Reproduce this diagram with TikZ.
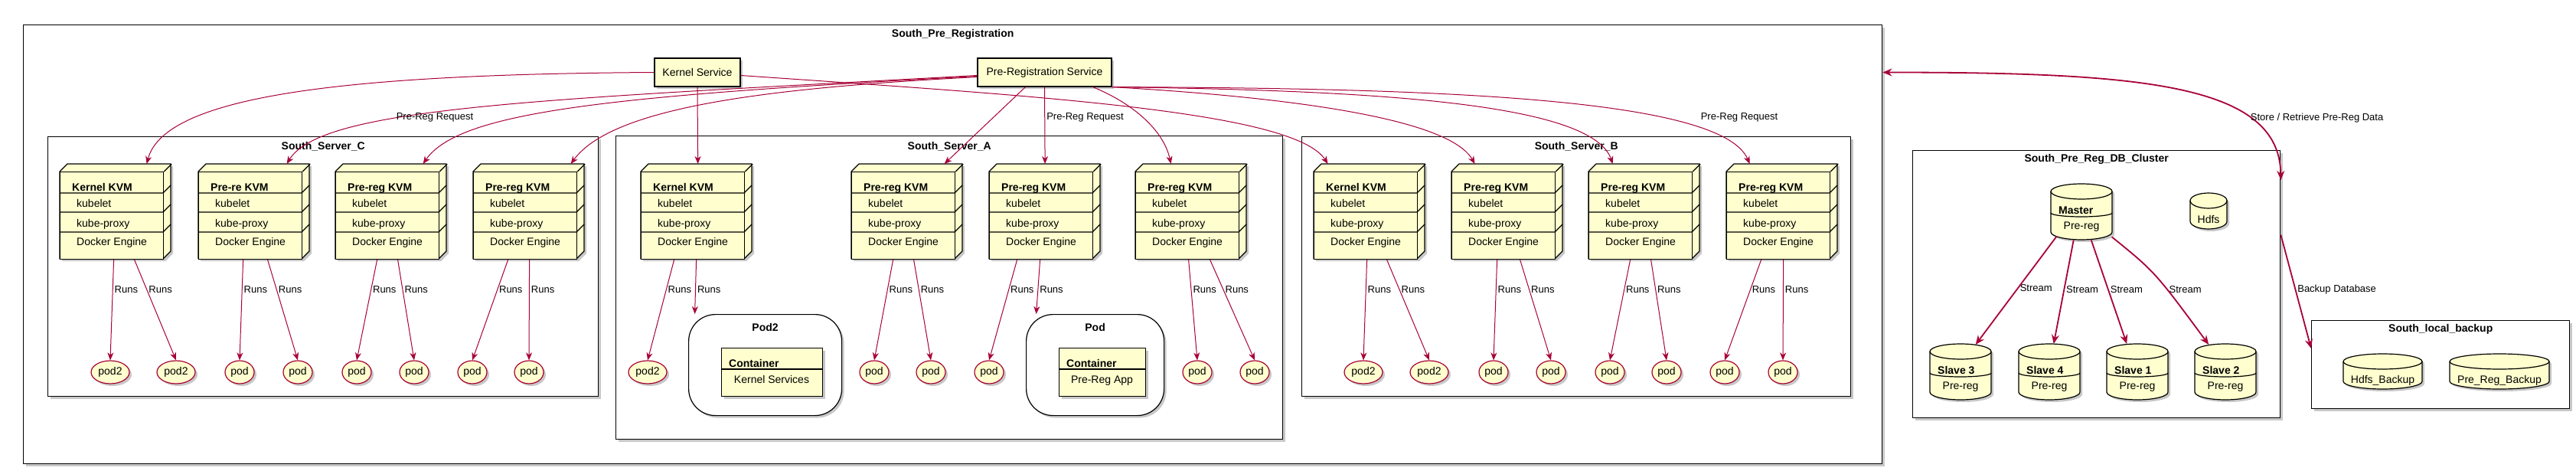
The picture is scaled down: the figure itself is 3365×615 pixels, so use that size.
\documentclass[tikz,border=0pt]{standalone}
\usepackage{fontspec}
\setmainfont{Liberation Sans}
\usepackage{xcolor}
\usetikzlibrary{shapes.geometric, arrows.meta, positioning, shadows}

\definecolor{umlfill}{HTML}{FEFECE}
\definecolor{umlred}{HTML}{A80036}

\tikzstyle{castshadow} = [drop shadow={shadow xshift=3pt, shadow yshift=-3pt, opacity=0.3, fill=black!70}]
\tikzstyle{cluster} = [rectangle, draw=black, line width=1.4pt, fill=white, castshadow, inner sep=0pt, anchor=north west]
\tikzstyle{grouptitle} = [font=\bfseries\fontsize{14}{16}\selectfont, inner sep=0pt]
\tikzstyle{service} = [rectangle, draw=black, line width=1.2pt, fill=umlfill, castshadow, minimum height=37pt, inner sep=0pt, font=\fontsize{14}{16}\selectfont]
\tikzstyle{kvmface} = [rectangle, draw=black, line width=1.2pt, fill=umlfill, minimum width=135pt, minimum height=114pt, inner sep=0pt, anchor=north west]
\tikzstyle{kvmbody} = [draw=black, line width=1.2pt, fill=umlfill, line join=round, castshadow]
\tikzstyle{kvmline} = [draw=black, line width=1.2pt]
\tikzstyle{boldtext} = [font=\bfseries\fontsize{14}{16}\selectfont, inner sep=0pt]
\tikzstyle{plaintext} = [font=\fontsize{14}{16}\selectfont, inner sep=0pt]
\tikzstyle{pod} = [ellipse, draw=umlred, line width=1.2pt, fill=umlfill, castshadow, minimum width=38pt, minimum height=30pt, inner sep=0pt, font=\fontsize{14}{16}\selectfont]
\tikzstyle{podtwo} = [pod, minimum width=50pt]
\tikzstyle{storage} = [rectangle, rounded corners=35pt, draw=black, line width=1.2pt, fill=white, castshadow, inner sep=0pt, anchor=north west]
\tikzstyle{container} = [rectangle, draw=black, line width=1.2pt, fill=umlfill, castshadow, inner sep=0pt, anchor=north west, minimum height=63pt]
\tikzstyle{dbbox} = [rectangle, inner sep=0pt, anchor=north west]
\tikzstyle{dbline} = [draw=black, line width=1.2pt, fill=umlfill]
\tikzstyle{link} = [draw=umlred, line width=1pt, ->, >={Stealth[length=10pt, width=8pt, inset=3pt]}]
\tikzstyle{boldlink} = [draw=umlred, line width=1.8pt, ->, >={Stealth[length=12pt, width=10pt, inset=4pt]}]
\tikzstyle{lbl} = [font=\fontsize{13}{15}\selectfont, inner sep=2pt]

% 3D node box: name, left x, title
\newcommand{\kvmnode}[3]{%
  \filldraw[kvmbody] (#2,224) -- (#2+10,214) -- (#2+145,214) -- (#2+145,328) -- (#2+135,338) -- (#2,338) -- cycle;
  \node[kvmface] (#1) at (#2,224) {};
  \draw[kvmline] (#1.north east) -- ++(10,-10)
    (#2,252) -- (#2+135,252) -- ++(10,-10)
    (#2,277) -- (#2+135,277) -- ++(10,-10)
    (#2,303) -- (#2+135,303) -- ++(10,-10);
  \node[boldtext, anchor=base west] (#1-title) at (#2+16,249) {#3};
  \node[plaintext, anchor=base west] (#1-kubelet) at (#2+22,270) {kubelet};
  \node[plaintext, anchor=base west] (#1-proxy) at (#2+22,296) {kube-proxy};
  \node[plaintext, anchor=base west] (#1-docker) at (#2+22,320) {Docker Engine};
}

% database cylinder: name, x, y, width, height
\newcommand{\dbshape}[5]{%
  \node[dbbox, minimum width=#4pt, minimum height=#5pt] (#1) at (#2,#3) {};
  \filldraw[dbline, castshadow] (#2,#3+10) arc[start angle=180, end angle=360, x radius=#4/2, y radius=10] -- (#2+#4,#3+#5-10) arc[start angle=0, end angle=180, x radius=#4/2, y radius=10] -- cycle;
  \draw[dbline, fill=none] (#2,#3+10) arc[start angle=180, end angle=0, x radius=#4/2, y radius=10];
}

% database with a field: name, x, y, title, text
\newcommand{\dbfield}[5]{%
  \dbshape{#1}{#2}{#3}{80}{73}
  \draw[dbline, fill=none] (#2,#3+38) arc[start angle=180, end angle=0, x radius=40, y radius=5];
  \node[boldtext, anchor=base west] (#1-title) at (#2+10,#3+39) {#4};
  \node[plaintext, anchor=base] (#1-text) at (#2+40,#3+59) {#5};
}

\begin{document}
\begin{tikzpicture}[x=1pt, y=-1pt]
\useasboundingbox (0,0) rectangle (3365,615);

% Groups
\node[cluster, minimum width=2428pt, minimum height=573pt] (south-prereg) at (30,32) {};
\node[grouptitle] (south-prereg-title) at ([yshift=-13pt]south-prereg.north) {South\_Pre\_Registration};

\node[cluster, minimum width=719pt, minimum height=339pt] (server-c) at (62,178) {};
\node[grouptitle] (server-c-title) at ([yshift=-13pt]server-c.north) {South\_Server\_C};
\node[cluster, minimum width=871pt, minimum height=396pt] (server-a) at (804,177) {};
\node[grouptitle] (server-a-title) at ([yshift=-14pt]server-a.north) {South\_Server\_A};
\node[cluster, minimum width=717pt, minimum height=339pt] (server-b) at (1700,178) {};
\node[grouptitle] (server-b-title) at ([yshift=-13pt]server-b.north) {South\_Server\_B};

\node[cluster, minimum width=480pt, minimum height=349pt] (db-cluster) at (2498,196) {};
\node[grouptitle] (db-cluster-title) at ([yshift=-12pt]db-cluster.north) {South\_Pre\_Reg\_DB\_Cluster};
\node[cluster, minimum width=337pt, minimum height=115pt] (local-backup) at (3019,418) {};
\node[grouptitle] (local-backup-title) at ([yshift=-12pt]local-backup.north) {South\_local\_backup};

% Services
\node[service, minimum width=112pt] (kernel-service) at (911,94.5) {Kernel Service};
\node[service, minimum width=175pt] (prereg-service) at (1364.5,94.5) {Pre-Registration Service};

% KVM nodes
\kvmnode{kvm-c1}{78}{Kernel KVM}
\kvmnode{kvm-c2}{259}{Pre-re KVM}
\kvmnode{kvm-c3}{438}{Pre-reg KVM}
\kvmnode{kvm-c4}{618}{Pre-reg KVM}
\kvmnode{kvm-a1}{837}{Kernel KVM}
\kvmnode{kvm-a2}{1112}{Pre-reg KVM}
\kvmnode{kvm-a3}{1292}{Pre-reg KVM}
\kvmnode{kvm-a4}{1483}{Pre-reg KVM}
\kvmnode{kvm-b1}{1716}{Kernel KVM}
\kvmnode{kvm-b2}{1896}{Pre-reg KVM}
\kvmnode{kvm-b3}{2075}{Pre-reg KVM}
\kvmnode{kvm-b4}{2255}{Pre-reg KVM}

% Pods
\node[podtwo] (pod-c1) at (144,486) {pod2};
\node[podtwo] (pod-c2) at (230,486) {pod2};
\node[pod] (pod-c3) at (313,486) {pod};
\node[pod] (pod-c4) at (389,486) {pod};
\node[pod] (pod-c5) at (466,486) {pod};
\node[pod] (pod-c6) at (541,486) {pod};
\node[pod] (pod-c7) at (617,486) {pod};
\node[pod] (pod-c8) at (691,486) {pod};

\node[podtwo] (pod-a1) at (846,486) {pod2};
\node[pod] (pod-a2) at (1142,486) {pod};
\node[pod] (pod-a3) at (1216,486) {pod};
\node[pod] (pod-a4) at (1292,486) {pod};
\node[pod] (pod-a5) at (1564,486) {pod};
\node[pod] (pod-a6) at (1639,486) {pod};

\node[podtwo] (pod-b1) at (1781,486) {pod2};
\node[podtwo] (pod-b2) at (1867,486) {pod2};
\node[pod] (pod-b3) at (1951,486) {pod};
\node[pod] (pod-b4) at (2026,486) {pod};
\node[pod] (pod-b5) at (2103,486) {pod};
\node[pod] (pod-b6) at (2177,486) {pod};
\node[pod] (pod-b7) at (2253,486) {pod};
\node[pod] (pod-b8) at (2329,486) {pod};

% Pod boxes with containers
\node[storage, minimum width=200pt, minimum height=132pt] (pod2-box) at (899,410) {};
\node[grouptitle] (pod2-box-title) at ([yshift=-17pt]pod2-box.north) {Pod2};
\node[container, minimum width=132pt] (kernel-container) at (942,454) {};
\draw[kvmline] (942,482) -- (1074,482);
\node[boldtext, anchor=base west] (kernel-container-title) at (952,479) {Container};
\node[plaintext, anchor=base] (kernel-container-text) at (1008,500) {Kernel Services};

\node[storage, minimum width=180pt, minimum height=132pt] (pod-box) at (1340,410) {};
\node[grouptitle] (pod-box-title) at ([yshift=-17pt]pod-box.north) {Pod};
\node[container, minimum width=113pt] (prereg-container) at (1383,454) {};
\draw[kvmline] (1383,482) -- (1496,482);
\node[boldtext, anchor=base west] (prereg-container-title) at (1393,479) {Container};
\node[plaintext, anchor=base] (prereg-container-text) at (1439.5,500) {Pre-Reg App};

% Databases
\dbfield{master}{2679}{240}{Master}{Pre-reg}
\dbshape{hdfs}{2861}{252}{48}{47}
\node[plaintext, anchor=base] (hdfs-text) at (2885,291) {Hdfs};
\dbfield{slave-3}{2521}{449}{Slave 3}{Pre-reg}
\dbfield{slave-4}{2637}{449}{Slave 4}{Pre-reg}
\dbfield{slave-1}{2752}{449}{Slave 1}{Pre-reg}
\dbfield{slave-2}{2867}{449}{Slave 2}{Pre-reg}

\dbshape{hdfs-backup}{3061}{462}{103}{46}
\node[plaintext, anchor=base] (hdfs-backup-text) at (3112.5,500) {Hdfs\_Backup};
\dbshape{prereg-backup}{3200}{462}{130}{46}
\node[plaintext, anchor=base] (prereg-backup-text) at (3265,500) {Pre\_Reg\_Backup};

% Requests from the services
\draw[link] (kernel-service.west) .. controls (450,97) and (215,125) .. ([xshift=45.5pt,yshift=10pt]kvm-c1.north);
\draw[link] (kernel-service.south) -- ([xshift=6.5pt,yshift=10pt]kvm-a1.north);
\draw[link] ([yshift=-4pt]kernel-service.east) .. controls (1350,125) and (1690,145) .. ([xshift=-49.5pt,yshift=10pt]kvm-b1.north);

\draw[link] ([yshift=-4pt]prereg-service.west) .. controls (700,130) and (420,140) .. ([xshift=47.5pt,yshift=10pt]kvm-c2.north);
\draw[link] ([yshift=-5pt]prereg-service.west) .. controls (800,125) and (600,145) .. ([xshift=46.5pt,yshift=10pt]kvm-c3.north);
\draw[link] ([yshift=-6pt]prereg-service.west) .. controls (1000,115) and (800,140) .. ([xshift=59.5pt,yshift=10pt]kvm-c4.north);
\node[lbl] (request-c) at (568,153) {Pre-Reg Request};

\draw[link] ([xshift=-25pt]prereg-service.south) -- ([xshift=53.5pt,yshift=10pt]kvm-a2.north);
\draw[link] (prereg-service.south) -- node[lbl, right, pos=0.4] {Pre-Reg Request} ([xshift=5pt,yshift=10pt]kvm-a3.north);
\draw[link] ([xshift=63pt]prereg-service.south) .. controls (1480,135) and (1520,170) .. ([xshift=-21.5pt,yshift=10pt]kvm-a4.north);

\draw[link] (prereg-service.south east) .. controls (1650,125) and (1890,150) .. ([xshift=-37.5pt,yshift=10pt]kvm-b2.north);
\draw[link] (prereg-service.south east) .. controls (1800,118) and (2080,135) .. ([xshift=-36.5pt,yshift=10pt]kvm-b3.north);
\draw[link] (prereg-service.south east) .. controls (1900,115) and (2250,130) .. ([xshift=-37.5pt,yshift=10pt]kvm-b4.north);
\node[lbl] (request-b) at (2272,153) {Pre-Reg Request};

% Runs
\draw[link] ([xshift=2.5pt]kvm-c1.south) -- node[lbl, right, pos=0.3] {Runs} (pod-c1.north);
\draw[link] ([xshift=29.5pt]kvm-c1.south) -- node[lbl, right, pos=0.3] {Runs} (pod-c2.north);
\draw[link] ([xshift=-9.5pt]kvm-c2.south) -- node[lbl, right, pos=0.3] {Runs} (pod-c3.north);
\draw[link] ([xshift=22.5pt]kvm-c2.south) -- node[lbl, right, pos=0.3] {Runs} (pod-c4.north);
\draw[link] ([xshift=-13.5pt]kvm-c3.south) -- node[lbl, right, pos=0.3] {Runs} (pod-c5.north);
\draw[link] ([xshift=13.5pt]kvm-c3.south) -- node[lbl, right, pos=0.3] {Runs} (pod-c6.north);
\draw[link] ([xshift=-22.5pt]kvm-c4.south) -- node[lbl, right, pos=0.3] {Runs} (pod-c7.north);
\draw[link] ([xshift=5.5pt]kvm-c4.south) -- node[lbl, right, pos=0.3] {Runs} (pod-c8.north);

\draw[link] ([xshift=-24.5pt]kvm-a1.south) -- node[lbl, right, pos=0.3] {Runs} (pod-a1.north);
\draw[link] ([xshift=4.5pt]kvm-a1.south) -- node[lbl, right, pos=0.55] {Runs} ([xshift=-92pt]pod2-box.north);
\draw[link] ([xshift=-13.5pt]kvm-a2.south) -- node[lbl, right, pos=0.3] {Runs} (pod-a2.north);
\draw[link] ([xshift=13.5pt]kvm-a2.south) -- node[lbl, right, pos=0.3] {Runs} (pod-a3.north);
\draw[link] ([xshift=-31.5pt]kvm-a3.south) -- node[lbl, right, pos=0.3] {Runs} (pod-a4.north);
\draw[link] ([xshift=-1.5pt]kvm-a3.south) -- node[lbl, right, pos=0.55] {Runs} ([xshift=-77pt]pod-box.north);
\draw[link] ([xshift=1.5pt]kvm-a4.south) -- node[lbl, right, pos=0.3] {Runs} (pod-a5.north);
\draw[link] ([xshift=29.5pt]kvm-a4.south) -- node[lbl, right, pos=0.3] {Runs} (pod-a6.north);

\draw[link] ([xshift=1.5pt]kvm-b1.south) -- node[lbl, right, pos=0.3] {Runs} (pod-b1.north);
\draw[link] ([xshift=27.5pt]kvm-b1.south) -- node[lbl, right, pos=0.3] {Runs} (pod-b2.north);
\draw[link] ([xshift=-8.5pt]kvm-b2.south) -- node[lbl, right, pos=0.3] {Runs} (pod-b3.north);
\draw[link] ([xshift=21.5pt]kvm-b2.south) -- node[lbl, right, pos=0.3] {Runs} (pod-b4.north);
\draw[link] ([xshift=-13.5pt]kvm-b3.south) -- node[lbl, right, pos=0.3] {Runs} (pod-b5.north);
\draw[link] ([xshift=13.5pt]kvm-b3.south) -- node[lbl, right, pos=0.3] {Runs} (pod-b6.north);
\draw[link] ([xshift=-22.5pt]kvm-b4.south) -- node[lbl, right, pos=0.3] {Runs} (pod-b7.north);
\draw[link] ([xshift=6.5pt]kvm-b4.south) -- node[lbl, right, pos=0.3] {Runs} (pod-b8.north);

% Database links
\draw[boldlink, <->] (south-prereg.east |- prereg-service) .. controls (2800,94.5) and (2978,110) .. node[lbl, right, pos=0.72] {Store / Retrieve Pre-Reg Data} ([yshift=-39pt]db-cluster.north east);
\draw[boldlink] ([yshift=64.5pt]db-cluster.east) -- node[lbl, right, pos=0.48] {Backup Database} ([yshift=-37pt]local-backup.north west);

\draw[boldlink] ([xshift=-32.5pt,yshift=5pt]master.south) -- node[lbl, right, pos=0.48] {Stream} ([xshift=19.5pt,yshift=-1pt]slave-3.north);
\draw[boldlink] ([xshift=-10.5pt]master.south) -- node[lbl, right, pos=0.48] {Stream} ([xshift=5.5pt]slave-4.north);
\draw[boldlink] ([xshift=12.5pt]master.south) -- node[lbl, right, pos=0.48] {Stream} ([xshift=-14pt]slave-1.north);
\draw[boldlink] ([xshift=39.5pt,yshift=4pt]master.south) .. controls (2815,355) .. node[lbl, right, pos=0.64] {Stream} ([xshift=-22pt,yshift=-1pt]slave-2.north);

\end{tikzpicture}
\end{document}
